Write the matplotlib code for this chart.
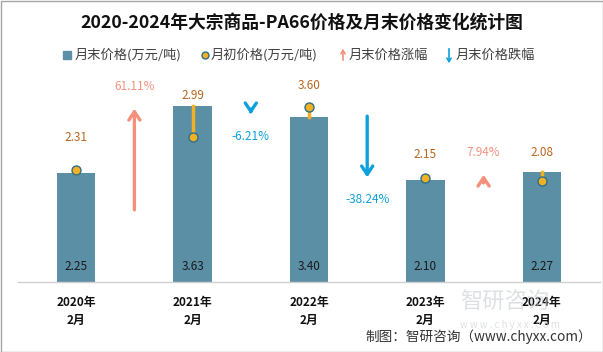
import matplotlib
matplotlib.use("Agg")
import matplotlib.pyplot as plt
from matplotlib.lines import Line2D
from matplotlib.patches import Rectangle, FancyArrowPatch

plt.rcParams['font.family'] = ['Noto Sans CJK SC', 'DejaVu Sans']

# data
years = ['2020年\n2月', '2021年\n2月', '2022年\n2月', '2023年\n2月', '2024年\n2月']
end_price = [2.25, 3.63, 3.40, 2.10, 2.27]      # 月末价格
start_price = [2.31, 2.99, 3.60, 2.15, 2.08]    # 月初价格
change_pct = [61.11, -6.21, -38.24, 7.94]       # 月末价格涨跌幅
label_gap = [32, 10, 22, 23, 19]                 # px gap of start labels above marks

bar_color = '#5B8FA6'
dot_color = '#F2B124'
dot_edge = '#2F6F86'
up_color = '#F4917C'
down_color = '#0CA1DC'
lbl_color = '#B8661F'

fig = plt.figure(figsize=(6.03, 3.52), dpi=100)
ax = fig.add_axes([18 / 603, 70 / 352, 582 / 603, 207 / 352])
ax.set_xlim(-0.5, 4.5)
ax.set_ylim(0, 207 / 48.5)

x = list(range(len(years)))
ax.bar(x, end_price, width=0.33, color=bar_color, zorder=2)

# connecting line from start price to end price
for i in x:
    ax.plot([i, i], [start_price[i], end_price[i]], color=dot_color, lw=2.5, zorder=3)
ax.scatter(x, start_price, s=42, color=dot_color, edgecolor=dot_edge, linewidth=1, zorder=4)

for i in x:
    ax.annotate(f'{end_price[i]:.2f}', (i, 0), xytext=(0, 11), textcoords='offset points',
                ha='center', va='center', fontsize=8.5, color='#1a1a1a', zorder=5)
    top = max(end_price[i], start_price[i])
    ax.annotate(f'{start_price[i]:.2f}', (i, top), xytext=(0, label_gap[i] * 0.72),
                textcoords='offset points', ha='center', va='center', fontsize=8.5, color=lbl_color)

# change arrows between bars
scale = 0.036
for k, pct in enumerate(change_pct):
    xm = k + 0.5
    tip = end_price[k + 1]
    tail = tip - pct * scale
    col = up_color if pct > 0 else down_color
    ax.annotate('', xy=(xm, tip), xytext=(xm, tail),
                arrowprops=dict(arrowstyle='->,head_length=0.6,head_width=0.4', color=col, lw=2.4))
    if pct > 0:
        ax.annotate(f'{pct:.2f}%', (xm, tip), xytext=(0, 14), textcoords='offset points',
                    ha='center', va='center', fontsize=8.5, color=col)
    else:
        ax.annotate(f'{pct:.2f}%', (xm, tip), xytext=(0, -14), textcoords='offset points',
                    ha='center', va='center', fontsize=8.5, color=col)

ax.set_xticks(x)
ax.set_xticklabels(years, fontsize=8.5, fontweight='bold', color='#111111', linespacing=1.5)
ax.tick_params(axis='x', length=0, pad=10)
ax.set_yticks([])
for s in ['top', 'right', 'left']:
    ax.spines[s].set_visible(False)
ax.spines['bottom'].set_color('#D0D0D0')
ax.spines['bottom'].set_linewidth(1)

# title
fig.text(0.5, 1 - 24 / 352, '2020-2024年大宗商品-PA66价格及月末价格变化统计图',
         ha='center', va='center', fontsize=12.8, fontweight='bold', color='#111111')

# legend (hand placed)
ly = 1 - 55 / 352
fig.patches.append(Rectangle((63 / 603, ly - 4 / 352), 8 / 603, 8 / 352,
                             transform=fig.transFigure, color=bar_color))
fig.text(75 / 603, ly, '月末价格(万元/吨)', va='center', fontsize=9.5, color='#404040')
fig.lines.append(Line2D([205 / 603], [ly], marker='o', markersize=5, color=dot_color,
                        markeredgecolor=dot_edge, transform=fig.transFigure))
fig.text(211 / 603, ly, '月初价格(万元/吨)', va='center', fontsize=9.5, color='#404040')
fig.add_artist(FancyArrowPatch((343 / 603, ly - 8 / 352), (343 / 603, ly + 9 / 352),
               transform=fig.transFigure, arrowstyle='->,head_length=2.5,head_width=1.5',
               color=up_color, lw=1.2))
fig.text(349 / 603, ly, '月末价格涨幅', va='center', fontsize=9.5, color='#404040')
fig.add_artist(FancyArrowPatch((449 / 603, ly + 9 / 352), (449 / 603, ly - 11 / 352),
               transform=fig.transFigure, arrowstyle='->,head_length=2.5,head_width=1.5',
               color=down_color, lw=1.2))
fig.text(456 / 603, ly, '月末价格跌幅', va='center', fontsize=9.5, color='#404040')

# watermark
fig.text(505 / 603, 1 - 302 / 352, '智研咨询', ha='center', va='center', fontsize=16,
         color='#C9CDD2', alpha=0.6, zorder=0)
fig.text(510 / 603, 1 - 325 / 352, 'w w w . c h y x x . c o m', ha='center', va='center',
         fontsize=7, color='#C9CDD2', alpha=0.6, zorder=0)

fig.text(592 / 603, 1 - 337 / 352, '制图：智研咨询（www.chyxx.com）', ha='right', va='center',
         fontsize=9.8, color='#333333')

# frame
fig.patches.append(Rectangle((0.5 / 603, 0.5 / 352), 602 / 603, 351 / 352, transform=fig.transFigure,
                             fill=False, edgecolor='#A6A6A6', lw=1))

fig.savefig('out.png', dpi=100)
